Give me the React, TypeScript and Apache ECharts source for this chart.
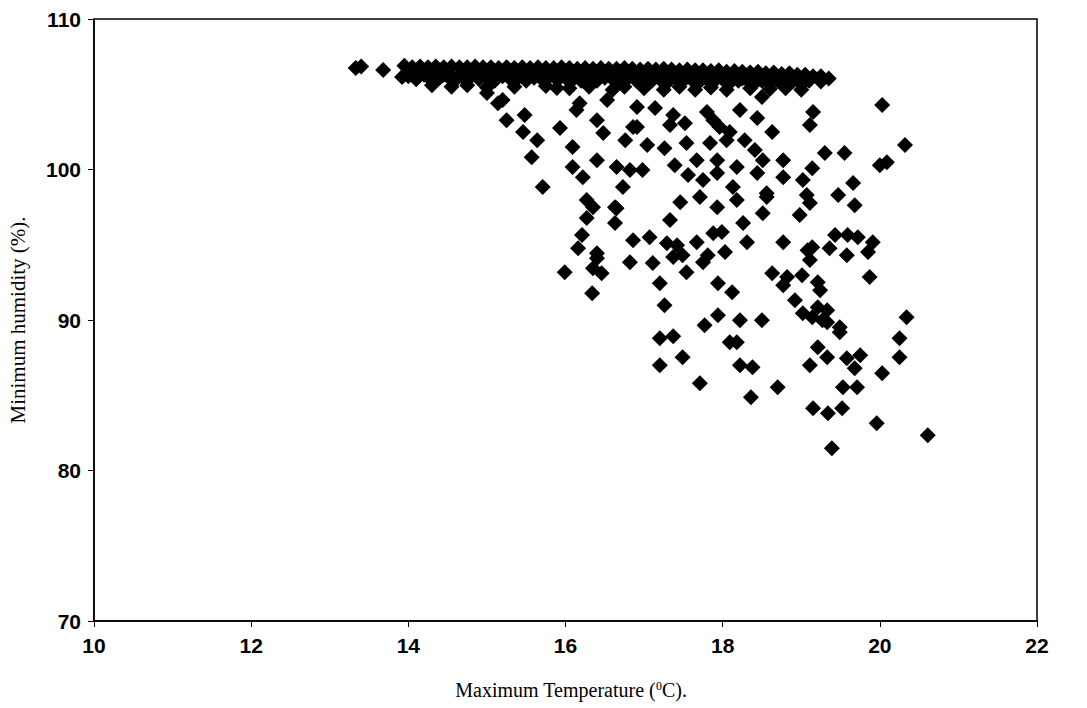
import React, { useEffect, useRef } from "react";
import * as echarts from "echarts";

// Axis ranges and tick labels
const xTicks = [10, 12, 14, 16, 18, 20, 22];
const yTicks = [70, 80, 90, 100, 110];

// Days near saturation: [max temperature °C, min humidity %]
const leftOutliers: [number, number][] = [
  [13.33, 106.75], [13.4, 106.85], [13.68, 106.61], [13.92, 106.14],
];

const plateauTop: [number, number][] = [
  [13.95, 106.9], [14.05, 106.8], [14.15, 106.85], [14.25, 106.8], [14.35, 106.85],
  [14.45, 106.8], [14.55, 106.85], [14.65, 106.8], [14.75, 106.8], [14.85, 106.85],
  [14.95, 106.8], [15.05, 106.8], [15.15, 106.75], [15.25, 106.8], [15.35, 106.75],
  [15.45, 106.8], [15.55, 106.75], [15.65, 106.8], [15.75, 106.75], [15.85, 106.75],
  [15.95, 106.8], [16.05, 106.75], [16.15, 106.7], [16.25, 106.75], [16.35, 106.7],
  [16.45, 106.75], [16.55, 106.7], [16.65, 106.7], [16.75, 106.75], [16.85, 106.7],
  [16.95, 106.65], [17.05, 106.7], [17.15, 106.65], [17.25, 106.7], [17.35, 106.65],
  [17.45, 106.6], [17.55, 106.65], [17.65, 106.6], [17.75, 106.6], [17.85, 106.55],
  [17.95, 106.6], [18.05, 106.5], [18.15, 106.55], [18.25, 106.5], [18.35, 106.45],
  [18.45, 106.5], [18.55, 106.4], [18.65, 106.45], [18.75, 106.35], [18.85, 106.4],
  [18.95, 106.3], [19.05, 106.3], [19.15, 106.2], [19.25, 106.2], [19.35, 106.05],
];

const plateauFill: [number, number][] = [
  [14.1, 106.5], [14.3, 106.45], [14.5, 106.5], [14.7, 106.45], [14.9, 106.5],
  [15.1, 106.45], [15.3, 106.5], [15.5, 106.4], [15.7, 106.45], [15.9, 106.4],
  [16.1, 106.45], [16.3, 106.4], [16.5, 106.4], [16.7, 106.35], [16.9, 106.4],
  [17.1, 106.35], [17.3, 106.3], [17.5, 106.35], [17.7, 106.3], [17.9, 106.25],
  [18.1, 106.2], [18.3, 106.25], [18.5, 106.15], [18.7, 106.1], [18.9, 106.05],
  [19.1, 106.0], [19.25, 105.85],
  [14.05, 106.3], [14.25, 106.25], [14.45, 106.3], [14.65, 106.25], [14.85, 106.3],
  [15.05, 106.25], [15.25, 106.3], [15.45, 106.2], [15.65, 106.25], [15.85, 106.2],
  [16.05, 106.25], [16.25, 106.2], [16.45, 106.2], [16.65, 106.15], [16.85, 106.2],
  [17.05, 106.15], [17.25, 106.1], [17.45, 106.15], [17.65, 106.1], [17.85, 106.05],
  [18.05, 106.0], [18.25, 106.05], [18.45, 105.95], [18.65, 105.95], [18.85, 105.9],
  [19.05, 105.85],
];

const plateauMid: [number, number][] = [
  [14.0, 106.2], [14.1, 106.0], [14.2, 106.3], [14.3, 105.9], [14.4, 106.1],
  [14.5, 106.2], [14.6, 105.95], [14.7, 106.1], [14.8, 106.2], [14.9, 106.0],
  [15.0, 106.1], [15.1, 105.9], [15.2, 106.2], [15.3, 106.0], [15.4, 106.1],
  [15.5, 105.9], [15.6, 106.1], [15.7, 106.0], [15.8, 106.2], [15.9, 105.95],
  [16.0, 106.1], [16.1, 106.0], [16.2, 105.9], [16.3, 106.1], [16.4, 105.9],
  [16.5, 106.1], [16.6, 106.0], [16.7, 105.8], [16.8, 106.1], [16.9, 105.9],
  [17.0, 106.1], [17.1, 105.9], [17.2, 106.0], [17.3, 105.8], [17.4, 106.1],
  [17.5, 105.9], [17.6, 106.0], [17.7, 105.8], [17.8, 106.0], [17.9, 105.9],
  [18.0, 106.0], [18.1, 105.8], [18.2, 105.9], [18.3, 106.0], [18.4, 105.8],
  [18.5, 105.9], [18.6, 105.8], [18.7, 105.9], [18.8, 105.8], [18.9, 105.9],
  [19.0, 105.7], [19.1, 105.9],
];

const plateauLow: [number, number][] = [
  [14.3, 105.6], [14.55, 105.5], [14.75, 105.6], [15.0, 105.45], [15.35, 105.5],
  [15.75, 105.55], [16.05, 105.4], [16.3, 105.5], [16.6, 105.3], [16.75, 105.5],
  [17.0, 105.4], [17.25, 105.3], [17.45, 105.5], [17.65, 105.3], [17.85, 105.45],
  [18.05, 105.3], [18.35, 105.4], [18.6, 105.35], [18.8, 105.4], [19.0, 105.3],
];

// Drier, warmer days below the plateau
const spreadUpper: [number, number][] = [
  [15.0, 105.08], [15.2, 104.61], [15.14, 104.41], [15.25, 103.28], [15.48, 103.62],
  [15.46, 102.49], [15.64, 101.95], [15.57, 100.82], [15.71, 98.83], [15.93, 102.75],
  [16.09, 101.49], [16.09, 100.16], [16.22, 99.49], [16.4, 100.62], [16.48, 102.42],
  [16.76, 101.95], [16.86, 102.82], [16.65, 100.16], [16.82, 99.96], [16.73, 98.83],
  [16.18, 104.41], [16.53, 104.61], [15.89, 105.41], [16.14, 103.95], [16.4, 103.28],
  [17.14, 104.08], [16.91, 104.15], [17.37, 103.62], [17.33, 102.95], [17.52, 103.08],
  [17.8, 103.82], [17.88, 103.28], [17.96, 102.82], [18.09, 102.49], [18.22, 103.95],
  [18.44, 103.42], [18.5, 104.81], [18.63, 102.49], [19.15, 103.82], [19.11, 102.95],
  [16.91, 102.82], [17.04, 101.62], [17.26, 101.42], [17.54, 101.76], [17.84, 101.76],
  [18.05, 101.95], [18.28, 101.95], [18.41, 101.29], [17.67, 100.62], [17.93, 100.62],
  [18.18, 100.16], [17.39, 100.29], [17.56, 99.63], [17.75, 99.3], [17.93, 99.76],
  [18.13, 98.83], [18.44, 99.76], [18.51, 100.62], [18.77, 100.62], [18.77, 99.49],
  [19.02, 99.3], [19.14, 100.09], [19.3, 101.09], [16.98, 99.96],
  [20.03, 104.28], [20.32, 101.62], [19.55, 101.09], [20.0, 100.29], [20.09, 100.49],
  [19.66, 99.1],
];

const spreadMiddle: [number, number][] = [
  [16.27, 97.97], [16.27, 96.77], [16.21, 95.64], [16.16, 94.77], [16.4, 94.44],
  [16.35, 97.5], [16.63, 97.5], [16.63, 96.44], [16.86, 95.3], [16.65, 97.43],
  [19.07, 98.3], [19.11, 97.77], [18.98, 96.97], [18.56, 98.17], [18.51, 97.1],
  [18.26, 96.44], [18.18, 97.97], [17.93, 97.5], [17.71, 98.17], [17.46, 97.83],
  [17.33, 96.64], [17.07, 95.5], [17.29, 95.1], [17.67, 95.17], [17.88, 95.77],
  [18.31, 95.17], [18.77, 95.17], [19.14, 94.84], [18.56, 98.43], [17.99, 95.84],
  [19.47, 98.3], [19.68, 97.63], [19.43, 95.64], [19.59, 95.64], [19.72, 95.5],
  [19.91, 95.17], [19.36, 94.77], [19.85, 94.51], [19.58, 94.31], [19.08, 94.64],
  [19.11, 93.98], [17.42, 94.97], [17.49, 94.31], [17.81, 94.31], [18.03, 94.51],
];

const spreadLower: [number, number][] = [
  [15.99, 93.18], [16.34, 91.78], [16.4, 94.11], [16.35, 93.44], [16.46, 93.11],
  [16.82, 93.84], [17.11, 93.78], [17.2, 92.45], [17.26, 90.98], [17.37, 94.18],
  [17.54, 93.18], [17.75, 93.84], [17.94, 92.45], [18.12, 91.85], [17.94, 90.32],
  [17.77, 89.65], [18.22, 89.99], [17.2, 88.79], [17.37, 88.92], [17.49, 87.53],
  [17.2, 87.0], [17.71, 85.8], [18.09, 88.52], [18.18, 88.52], [18.22, 87.0],
  [18.36, 84.87], [18.63, 93.11], [18.82, 92.85], [18.77, 92.31], [19.01, 92.98],
  [19.21, 92.51], [19.24, 91.98], [18.92, 91.32], [19.02, 90.45], [19.14, 90.19],
  [19.21, 90.85], [19.33, 90.65], [19.33, 89.85], [19.49, 89.19], [18.5, 89.99],
  [18.38, 86.86], [19.21, 88.19], [19.33, 87.53], [19.11, 87.0], [19.58, 87.46],
  [19.75, 87.66], [19.68, 86.8], [20.03, 86.46], [20.25, 88.79], [20.25, 87.53],
  [20.34, 90.19], [19.87, 92.85], [19.53, 85.53], [19.71, 85.53], [18.7, 85.53],
  [19.15, 84.14], [19.34, 83.8], [19.52, 84.14], [19.96, 83.14], [20.61, 82.34],
  [19.39, 81.48], [19.27, 89.99], [19.49, 89.52],
];

const allObs = [
  ...leftOutliers, ...plateauTop, ...plateauFill, ...plateauMid, ...plateauLow,
  ...spreadUpper, ...spreadMiddle, ...spreadLower,
];

const tickFont = {
  fontFamily: "'Liberation Sans', Arial, sans-serif",
  fontWeight: "bold" as const,
  fontSize: 21,
  color: "#000",
};
const titleFont = "'Liberation Serif', 'Times New Roman', serif";

export default function App() {
  const ref = useRef<HTMLDivElement>(null);

  useEffect(() => {
    document.body.style.margin = "0";
    if (!ref.current) return;
    const chart = echarts.init(ref.current, undefined, { renderer: "svg" });
    chart.setOption({
      animation: false,
      backgroundColor: "#fff",
      grid: {
        left: 94, right: 50, top: 19, bottom: 87,
        show: true, borderColor: "#000", borderWidth: 1.5,
      },
      xAxis: {
        type: "value",
        min: xTicks[0], max: xTicks[xTicks.length - 1], interval: 2,
        axisLine: { lineStyle: { color: "#000", width: 1.5 } },
        axisTick: { show: true, length: 6, lineStyle: { color: "#000" } },
        splitLine: { show: false },
        axisLabel: { ...tickFont, margin: 14 },
      },
      yAxis: {
        type: "value",
        min: yTicks[0], max: yTicks[yTicks.length - 1], interval: 10,
        axisLine: { show: true, lineStyle: { color: "#000", width: 1.5 } },
        axisTick: { show: true, length: 6, lineStyle: { color: "#000" } },
        splitLine: { show: false },
        axisLabel: { ...tickFont, margin: 13 },
      },
      graphic: [
        {
          type: "text",
          x: 571, y: 690,
          style: {
            text: "{a|Maximum Temperature (}{s|0}{a|C).}",
            textAlign: "center",
            textVerticalAlign: "middle",
            rich: {
              a: { fontFamily: titleFont, fontSize: 20, fill: "#000" },
              s: { fontFamily: titleFont, fontSize: 12, fill: "#000", padding: [0, 0, 9, 0] },
            },
          },
        },
        {
          type: "text",
          x: 18, y: 320,
          rotation: Math.PI / 2,
          style: {
            text: "Minimum humidity (%).",
            fontFamily: titleFont,
            fontSize: 21,
            fill: "#000",
            textAlign: "center",
            textVerticalAlign: "middle",
          },
        },
      ],
      series: [
        {
          type: "scatter",
          data: allObs,
          symbol: "diamond",
          symbolSize: 16,
          itemStyle: { color: "#000", opacity: 1 },
        },
      ],
    });
    return () => chart.dispose();
  }, []);

  return <div ref={ref} style={{ width: 1087, height: 708 }} />;
}
